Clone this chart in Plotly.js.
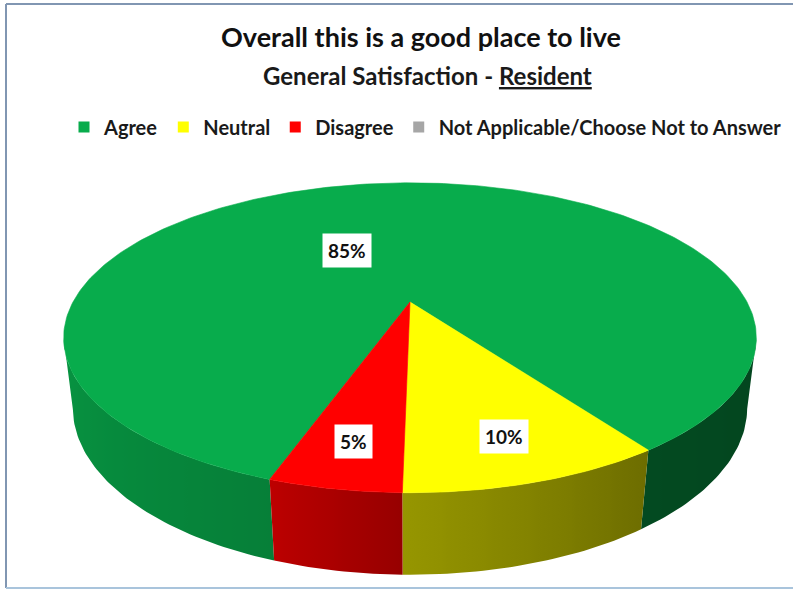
<!DOCTYPE html>
<html>
<head>
<meta charset="utf-8">
<script src="https://cdn.plot.ly/plotly-3.0.1.min.js"></script>
<style>html,body{margin:0;padding:0;background:#fff;}#chart{width:793px;height:590px;}</style>
</head>
<body>
<div id="chart"></div>
<script>
// ---- data ----
const categories = ['Agree', 'Neutral', 'Disagree', 'Not Applicable/Choose Not to Answer'];
const values = [85, 10, 5, 0];
const sliceColors = ['#08AC4C', '#FFFF00', '#FF0000', '#A6A6A6'];
const chartTitle = 'Overall this is a good place to live';
const subTitle = 'General Satisfaction - ';
const subTitleUnderlined = 'Resident';

// ---- 3D pie geometry (style / layout constants) ----
const W = 793, Hpx = 590;
const geo = { cx: 410, cy: 302, S: 337, D: 3.9, phi: 25.8 * Math.PI / 180, depth: 0.231, start: 199 };
const labelRadius = [0.434, 0.79, 0.79, 0.79];
const labelShift = [-20, 0, 0, 0];
const shadeKnots = [[80, 0.38], [146, 0.43], [181, 0.59], [199, 0.74], [270, 0.9], [280, 0.9]];
const FONT = 'Lato, "Open Sans", "DejaVu Sans", sans-serif';

const cphi = Math.cos(geo.phi), sphi = Math.sin(geo.phi);
function proj(thetaDeg, r, h) {
  const t = thetaDeg * Math.PI / 180;
  const x = r * Math.sin(t), z = r * Math.cos(t);
  const den = geo.D + z * cphi - h * sphi;
  return [geo.cx + geo.S * geo.D * x / den, geo.cy - geo.S * geo.D * (h * cphi + z * sphi) / den];
}
function shadeFactor(th) {
  let t = ((th % 360) + 360) % 360;
  for (let i = 0; i < shadeKnots.length - 1; i++) {
    const [a, fa] = shadeKnots[i], [b, fb] = shadeKnots[i + 1];
    if (t >= a && t <= b) return fa + (fb - fa) * (t - a) / (b - a);
  }
  return 0.5;
}
function shade(hex, f) {
  const n = parseInt(hex.slice(1), 16);
  const r = Math.round(((n >> 16) & 255) * f), g = Math.round(((n >> 8) & 255) * f), b = Math.round((n & 255) * f);
  return `rgb(${r},${g},${b})`;
}
function segs(a0, a1, w0, w1) {
  const out = [];
  for (let n = -1; n <= 2; n++) {
    const lo = Math.max(a0, w0 + 360 * n), hi = Math.min(a1, w1 + 360 * n);
    if (hi > lo) out.push([lo, hi]);
  }
  return out;
}

const total = values.reduce((a, b) => a + b, 0);
const slices = [];
let acc = geo.start;
values.forEach((v, i) => {
  const span = 360 * v / total;
  slices.push({ i, a0: acc, a1: acc + span, v });
  acc += span;
});

// silhouette angles of the top rim (perspective)
const wE = Math.acos(-cphi / geo.D) * 180 / Math.PI;
const traces = [];
// side walls (visible front part) with horizontal gradient shading
slices.forEach(sl => {
  if (sl.v <= 0) return;
  segs(sl.a0, sl.a1, wE, 360 - wE).forEach(([lo, hi]) => {
    const n = Math.max(4, Math.ceil((hi - lo) / 1));
    const xs = [], ys = [], stops = [];
    for (let k = 0; k <= n; k++) {
      const t = lo + (hi - lo) * k / n; const p = proj(t, 1, 0);
      xs.push(p[0]); ys.push(p[1]);
      stops.push([p[0], shade(sliceColors[sl.i], shadeFactor(t))]);
    }
    for (let k = n; k >= 0; k--) {
      const t = lo + (hi - lo) * k / n; const p = proj(t, 1, -geo.depth);
      xs.push(p[0]); ys.push(p[1]);
    }
    stops.sort((a, b) => a[0] - b[0]);
    const xmin = stops[0][0], xmax = stops[stops.length - 1][0];
    const cs = stops.map(s => [(s[0] - xmin) / (xmax - xmin), s[1]]);
    cs[0][0] = 0; cs[cs.length - 1][0] = 1;
    const midCol = shade(sliceColors[sl.i], shadeFactor((lo + hi) / 2));
    traces.push({ type: 'scatter', mode: 'lines', x: xs, y: ys, fill: 'toself', fillcolor: midCol,
      fillgradient: { type: 'horizontal', colorscale: cs, start: xmin, stop: xmax },
      line: { width: 0 }, hoverinfo: 'skip', showlegend: false });
  });
});
// top faces
slices.forEach(sl => {
  if (sl.v <= 0) return;
  const c0 = proj(0, 0, 0);
  const xs = [c0[0]], ys = [c0[1]];
  const n = Math.max(2, Math.ceil(sl.a1 - sl.a0));
  for (let k = 0; k <= n; k++) {
    const p = proj(sl.a0 + (sl.a1 - sl.a0) * k / n, 1, 0);
    xs.push(p[0]); ys.push(p[1]);
  }
  xs.push(c0[0]); ys.push(c0[1]);
  traces.push({ type: 'scatter', mode: 'lines', x: xs, y: ys, fill: 'toself', fillcolor: sliceColors[sl.i],
    line: { color: sliceColors[sl.i], width: 0.6 }, name: categories[sl.i],
    text: categories[sl.i] + ': ' + sl.v + '%', hoveron: 'fills', hoverinfo: 'text', showlegend: false });
});
// legend entries
categories.forEach((c, i) => {
  traces.push({ type: 'scatter', mode: 'markers', x: [null], y: [null], name: c,
    marker: { symbol: 'square', size: 11, color: sliceColors[i] }, showlegend: true, hoverinfo: 'skip' });
});

// data labels
const annotations = [];
slices.forEach(sl => {
  if (sl.v <= 0) return;
  const mid = (sl.a0 + sl.a1) / 2 + labelShift[sl.i];
  const p = proj(mid, labelRadius[sl.i], 0);
  annotations.push({ x: p[0], y: p[1], xref: 'x', yref: 'y', showarrow: false,
    text: Math.round(100 * sl.v / total) + '%', bgcolor: '#ffffff', borderpad: 5,
    font: { family: FONT, size: 19, color: '#111', weight: 700 } });
});
annotations.push({ x: 427 / W, y: 1 - 76 / Hpx, xref: 'paper', yref: 'paper', showarrow: false,
  xanchor: 'center', yanchor: 'middle',
  text: subTitle + '<u>' + subTitleUnderlined + '</u>',
  font: { family: FONT, size: 24, color: '#1a1a1a', weight: 700 } });

const borderColor = '#8196b2';
const layout = {
  width: W, height: Hpx,
  margin: { l: 0, r: 0, t: 0, b: 0 },
  paper_bgcolor: '#ffffff', plot_bgcolor: 'rgba(0,0,0,0)',
  title: { text: chartTitle, x: 421 / W, xanchor: 'center', y: 1 - 38 / Hpx, yanchor: 'middle',
    font: { family: FONT, size: 27, color: '#111', weight: 700 } },
  xaxis: { range: [0, W], visible: false, fixedrange: true },
  yaxis: { range: [Hpx, 0], visible: false, fixedrange: true },
  showlegend: true,
  legend: { orientation: 'h', x: 64 / W, xanchor: 'left', y: 1 - 127 / Hpx, yanchor: 'middle',
    font: { family: FONT, size: 20, color: '#1a1a1a', weight: 700 }, itemwidth: 30, tracegroupgap: 0,
    bgcolor: 'rgba(0,0,0,0)' },
  annotations: annotations,
  shapes: [
    { type: 'line', xref: 'paper', yref: 'paper', x0: 6 / W, x1: 6 / W, y0: 1 - 588 / Hpx, y1: 1 - 4 / Hpx, line: { color: borderColor, width: 2 } },
    { type: 'line', xref: 'paper', yref: 'paper', x0: 6 / W, x1: 1, y0: 1 - 4 / Hpx, y1: 1 - 4 / Hpx, line: { color: borderColor, width: 2 } },
    { type: 'line', xref: 'paper', yref: 'paper', x0: 6 / W, x1: 1, y0: 1 - 588 / Hpx, y1: 1 - 588 / Hpx, line: { color: '#a9c4dc', width: 2 } }
  ]
};

Plotly.newPlot('chart', traces, layout, { displayModeBar: false });
</script>
</body>
</html>
